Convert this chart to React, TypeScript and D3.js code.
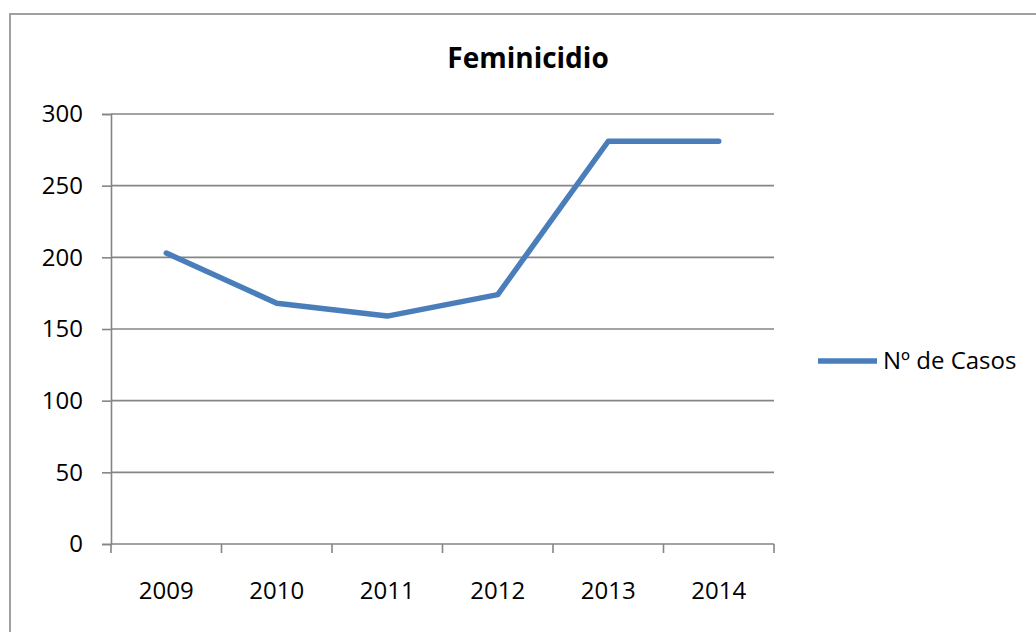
import React, { useEffect, useRef } from 'react';
import * as d3 from 'd3';

const years = ['2009', '2010', '2011', '2012', '2013', '2014'];
const casos = [203, 168, 159, 174, 281, 281];
const yTicks = [0, 50, 100, 150, 200, 250, 300];
const seriesName = 'Nº de Casos';
const chartTitle = 'Feminicidio';

const W = 1036;
const H = 632;
const FONT = '"Open Sans", sans-serif';

const App: React.FC = () => {
  const svgRef = useRef<SVGSVGElement>(null);

  useEffect(() => {
    if (!svgRef.current) return;
    const svg = d3.select(svgRef.current);
    svg.selectAll('*').remove();

    const left = 111, right = 774, top = 114, bottom = 544;
    const x = d3.scaleBand<string>().domain(years).range([left, right]);
    const y = d3.scaleLinear().domain([0, 300]).range([bottom, top]);
    const grid = '#858585';

    // outer chart border (runs off the right/bottom edge)
    svg.append('rect')
      .attr('x', 10).attr('y', 14)
      .attr('width', W).attr('height', H)
      .attr('fill', '#fff')
      .attr('stroke', '#a0a0a0')
      .attr('stroke-width', 2);

    // title
    svg.append('text')
      .attr('x', 528).attr('y', 68)
      .attr('text-anchor', 'middle')
      .attr('font-family', FONT)
      .attr('font-weight', 'bold')
      .attr('font-size', 28)
      .attr('fill', '#000')
      .text(chartTitle);

    // gridlines
    svg.append('g')
      .selectAll('line')
      .data(yTicks.filter(t => t > 0))
      .join('line')
      .attr('x1', left).attr('x2', right)
      .attr('y1', d => y(d)).attr('y2', d => y(d))
      .attr('stroke', grid)
      .attr('stroke-width', 1.6);

    // y axis
    const yAxis = svg.append('g')
      .attr('transform', `translate(${left},0)`)
      .call(d3.axisLeft(y).tickValues(yTicks).tickSize(9).tickPadding(19));
    yAxis.select('.domain').attr('stroke', grid).attr('stroke-width', 1.6);
    yAxis.selectAll('.tick line').attr('stroke', grid).attr('stroke-width', 1.6);
    yAxis.selectAll('.tick text')
      .attr('font-family', FONT)
      .attr('font-size', 24)
      .attr('fill', '#000');

    // x axis: ticks at band edges, labels at band centres
    const xg = svg.append('g');
    xg.append('line')
      .attr('x1', left).attr('x2', right)
      .attr('y1', bottom).attr('y2', bottom)
      .attr('stroke', grid).attr('stroke-width', 1.6);
    const edges = years.map(d => x(d) as number).concat([right]);
    xg.selectAll('line.tk')
      .data(edges)
      .join('line')
      .attr('class', 'tk')
      .attr('x1', d => d).attr('x2', d => d)
      .attr('y1', bottom).attr('y2', bottom + 9)
      .attr('stroke', grid).attr('stroke-width', 1.6);
    xg.selectAll('text')
      .data(years)
      .join('text')
      .attr('x', d => (x(d) as number) + x.bandwidth() / 2)
      .attr('y', 599)
      .attr('text-anchor', 'middle')
      .attr('font-family', FONT)
      .attr('font-size', 24)
      .attr('fill', '#000')
      .text(d => d);

    // series line
    const line = d3.line<number>()
      .x((_, i) => (x(years[i]) as number) + x.bandwidth() / 2)
      .y(d => y(d));
    svg.append('path')
      .datum(casos)
      .attr('d', line)
      .attr('fill', 'none')
      .attr('stroke', '#4a7ebb')
      .attr('stroke-width', 5.5)
      .attr('stroke-linecap', 'round')
      .attr('stroke-linejoin', 'round');

    // legend
    svg.append('line')
      .attr('x1', 818).attr('x2', 877)
      .attr('y1', 361).attr('y2', 361)
      .attr('stroke', '#4a7ebb')
      .attr('stroke-width', 5.5);
    svg.append('text')
      .attr('x', 883).attr('y', 369)
      .attr('font-family', FONT)
      .attr('font-size', 24)
      .attr('fill', '#000')
      .text(seriesName);
  }, []);

  return (
    <svg
      ref={svgRef}
      width={W}
      height={H}
      style={{ position: 'absolute', left: 0, top: 0, background: '#fff' }}
    />
  );
};

export default App;
